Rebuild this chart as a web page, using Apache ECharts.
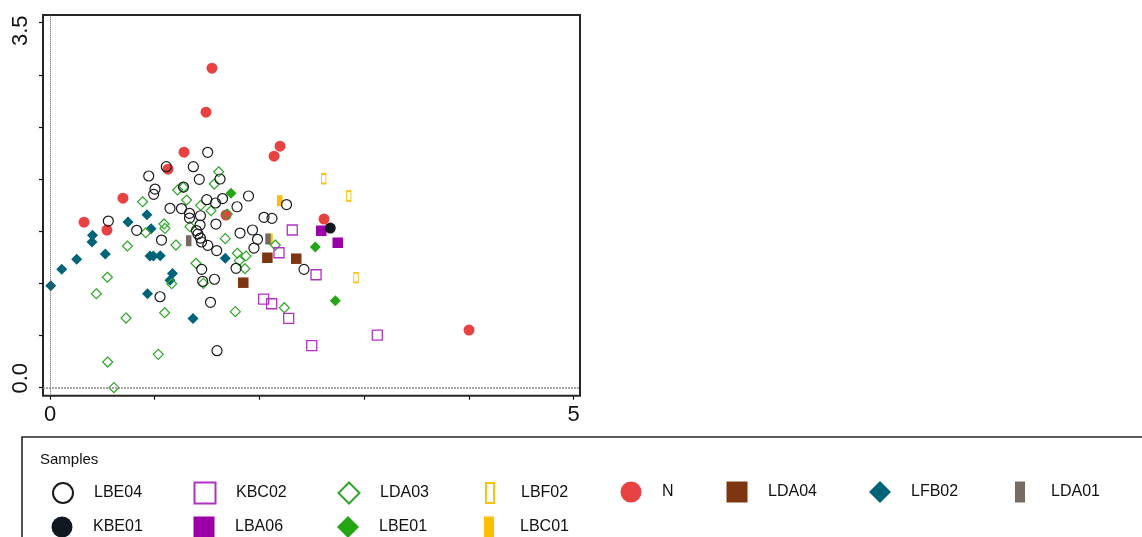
<!DOCTYPE html>
<html><head><meta charset="utf-8">
<script src="https://cdn.jsdelivr.net/npm/echarts@6.0.0/dist/echarts.min.js"></script>
<style>html,body{margin:0;padding:0;background:#fff}#c{width:1142px;height:537px}</style>
</head><body><div id="c"></div>
<script>
const FONT = "'Liberation Sans', Arial, Helvetica, sans-serif";

// ---- axis ticks / labels ----
const xTicks = [0, 1, 2, 3, 4, 5];
const xTickLabels = [0, 5];
const yTicks = [0, 0.5, 1, 1.5, 2, 2.5, 3, 3.5];
const yTickLabels = [0, 3.5];
const legendTitle = 'Samples';

// ---- categories (legend order) ----
const seriesNames = ['LBE04', 'KBC02', 'LDA03', 'LBF02', 'N', 'LDA04', 'LFB02', 'LDA01', 'KBE01', 'LBA06', 'LBE01', 'LBC01'];

// ---- series values [x, y] ----
const LBE04 = [[1.506,2.257],[1.111,2.119],[1.369,2.119],[0.943,2.030],[1.426,1.998],[1.624,2.001],[1.003,1.905],[0.990,1.854],[1.275,1.924],[1.896,1.838],[2.259,1.756],[1.497,1.803],[1.581,1.771],[1.648,1.814],[1.786,1.735],[1.146,1.720],[1.256,1.718],[1.332,1.672],[1.332,1.627],[1.437,1.649],[1.585,1.569],[1.433,1.560],[1.399,1.507],[1.413,1.474],[1.437,1.435],[1.447,1.397],[1.507,1.365],[1.592,1.315],[1.065,1.416],[1.815,1.483],[1.934,1.512],[1.982,1.423],[1.948,1.339],[2.044,1.634],[2.120,1.624],[0.557,1.598],[0.828,1.509],[1.449,1.135],[1.777,1.145],[1.458,1.020],[1.571,1.040],[1.051,0.872],[1.533,0.819],[1.595,0.355],[2.426,1.135]];
const KBC02 = [[2.314,1.512],[2.187,1.294],[2.541,1.083],[2.041,0.850],[2.117,0.805],[2.280,0.665],[3.126,0.505],[2.500,0.403]];
const LDA03 = [[1.611,2.071],[1.569,1.953],[1.219,1.896],[1.273,1.921],[1.305,1.800],[1.439,1.749],[1.538,1.697],[1.693,1.665],[1.089,1.570],[1.098,1.528],[1.337,1.544],[1.203,1.368],[1.674,1.429],[1.789,1.289],[1.872,1.263],[1.808,1.218],[1.394,1.193],[1.862,1.141],[0.885,1.783],[0.914,1.486],[0.739,1.359],[2.152,1.368],[0.548,1.059],[0.443,0.901],[1.162,0.997],[1.465,1.001],[1.095,0.719],[0.726,0.668],[1.770,0.729],[2.238,0.767],[1.034,0.320],[0.551,0.246],[0.611,0.000]];
const LBF02 = [[2.614,2.004],[2.853,1.838],[2.923,1.055]];
const N = [[1.547,3.064],[1.490,2.642],[1.280,2.258],[1.127,2.095],[2.197,2.316],[2.140,2.220],[0.697,1.817],[0.325,1.587],[0.544,1.512],[1.681,1.656],[2.617,1.617],[4.002,0.553]];
const LDA04 = [[2.076,1.246],[2.352,1.237],[1.846,1.007]];
const LFB02 = [[0.926,1.659],[0.745,1.589],[0.965,1.525],[0.406,1.461],[0.401,1.397],[0.528,1.282],[0.255,1.232],[0.112,1.135],[0.007,0.978],[0.955,1.263],[0.987,1.263],[1.053,1.266],[1.170,1.095],[1.146,1.030],[0.931,0.901],[1.366,0.664],[1.674,1.241]];
const LDA01 = [[1.325,1.409],[2.082,1.426]];
const KBE01 = [[2.677,1.531]];
const LBA06 = [[2.591,1.505],[2.748,1.390]];
const LBE01 = [[1.729,1.864],[2.534,1.349],[2.725,0.834]];
const LBC01 = [[2.194,1.793],[2.101,1.426]];

const valuesByName = { LBE04, KBC02, LDA03, LBF02, N, LDA04, LFB02, LDA01, KBE01, LBA06, LBE01, LBC01 };

// ---- styles ----
const NONE = 'rgba(0,0,0,0)';
const styleByName = {
  LBE04: { symbol: 'circle',  size: 10,      item: { color: NONE, borderColor: '#1b1b1b', borderWidth: 1.2 }, leg: [20, 20] },
  KBC02: { symbol: 'rect',    size: 10,      item: { color: NONE, borderColor: '#b132c2', borderWidth: 1.3 }, leg: [21, 21] },
  LDA03: { symbol: 'diamond', size: 10,      item: { color: NONE, borderColor: '#2fa62a', borderWidth: 1.2 }, leg: [21, 21] },
  LBF02: { symbol: 'rect',    size: [4.5, 9.5], item: { color: NONE, borderColor: '#ffc10a', borderWidth: 1.3 }, leg: [8, 20] },
  N:     { symbol: 'circle',  size: 11,      item: { color: '#e84142' }, leg: [21, 21] },
  LDA04: { symbol: 'rect',    size: 10.5,    item: { color: '#7e3511' }, leg: [21, 21] },
  LFB02: { symbol: 'diamond', size: 11,      item: { color: '#006478' }, leg: [22, 22] },
  LDA01: { symbol: 'rect',    size: [5.5, 11], item: { color: '#766b62' }, leg: [10, 21] },
  KBE01: { symbol: 'circle',  size: 11,      item: { color: '#121820' }, leg: [21, 21] },
  LBA06: { symbol: 'rect',    size: 10.5,    item: { color: '#9b00a8' }, leg: [21, 21] },
  LBE01: { symbol: 'diamond', size: 11,      item: { color: '#24a514' }, leg: [22, 22] },
  LBC01: { symbol: 'rect',    size: [5.5, 11], item: { color: '#ffbf00' }, leg: [10, 21] }
};

// ---- layout ----
const gridL = 43, gridT = 15, gridR = 580, gridB = 395.7;
const x0px = 50, x5px = 573.5, y0px = 387.7, y35px = 22.7;
const xScale = (x5px - x0px) / 5, yScale = (y0px - y35px) / 3.5;
const xMin = -(x0px - gridL) / xScale, xMax = 5 + (gridR - x5px) / xScale;
const yMin = -(gridB - y0px) / yScale, yMax = 3.5 + (y35px - gridT) / yScale;

const legendCols = [62, 204, 348, 489, 631, 737, 880, 1020];
const legendRows = [492, 527];

const legends = seriesNames.map((name, i) => {
  const st = styleByName[name];
  const w = st.leg[0], h = st.leg[1];
  const cx = legendCols[i < 8 ? i : i - 8];
  const cy = legendRows[i < 8 ? 0 : 1];
  return {
    data: [name], left: cx - w / 2, top: cy - h / 2, itemWidth: w, itemHeight: h,
    padding: 0, itemGap: 0, selectedMode: false,
    textStyle: { fontSize: 16, color: '#111', fontFamily: FONT, padding: [0, 0, 0, 31 - w / 2 - 5] }
  };
});

const drawOrder = seriesNames.slice().reverse();
const series = drawOrder.map((name, k) => {
  const st = styleByName[name];
  const s = {
    name, type: 'scatter', data: valuesByName[name],
    symbol: st.symbol, symbolSize: st.size, itemStyle: Object.assign({ opacity: 1 }, st.item),
    clip: false, emphasis: { disabled: true }
  };
  if (k === 0) {
    s.markLine = {
      silent: true, symbol: 'none', label: { show: false }, animation: false,
      data: [
        { xAxis: 0, lineStyle: { color: '#555', width: 1, type: [1, 1], opacity: 1 } },
        { yAxis: 0, lineStyle: { color: '#8a8a8a', width: 1.6, type: [2, 1], opacity: 1 } }
      ]
    };
  }
  return s;
});

const chart = echarts.init(document.getElementById('c'), null, { renderer: 'canvas' });
chart.setOption({
  animation: false,
  backgroundColor: '#fff',
  textStyle: { fontFamily: FONT },
  title: { text: legendTitle, left: 40, top: 452, padding: 0,
           textStyle: { fontSize: 15, fontWeight: 'normal', color: '#111', fontFamily: FONT } },
  grid: { left: gridL, top: gridT, width: gridR - gridL, height: gridB - gridT,
          show: true, borderColor: '#262626', borderWidth: 2, backgroundColor: NONE },
  xAxis: {
    type: 'value', min: xMin, max: xMax,
    axisLine: { show: false, onZero: false }, splitLine: { show: false },
    axisTick: { show: true, inside: false, length: 4, customValues: xTicks, lineStyle: { color: '#111', width: 1.2 } },
    axisLabel: { show: true, customValues: xTickLabels, margin: 8, fontSize: 22, color: '#111', fontFamily: FONT,
                 formatter: v => String(Math.round(v)) }
  },
  yAxis: {
    type: 'value', min: yMin, max: yMax,
    axisLine: { show: false, onZero: false }, splitLine: { show: false },
    axisTick: { show: true, inside: false, length: 4, customValues: yTicks, lineStyle: { color: '#111', width: 1.2 } },
    axisLabel: { show: true, customValues: yTickLabels, margin: 11, rotate: 90, fontSize: 22, color: '#111', fontFamily: FONT,
                 formatter: v => (Math.abs(v) < 1e-9 ? '{lo|0.0}' : '{hi|' + v.toFixed(1) + '}'),
                 rich: { lo: { fontSize: 22, padding: [0, 0, 0, 19], fontFamily: FONT, color: '#111' },
                         hi: { fontSize: 22, padding: [0, 16, 0, 0], fontFamily: FONT, color: '#111' } } }
  },
  legend: legends,
  graphic: [{
    type: 'rect', silent: true, z: -1,
    shape: { x: 22, y: 437, width: 1200, height: 200 },
    style: { fill: NONE, stroke: '#262626', lineWidth: 1.6 }
  }],
  series
});
</script></body></html>
